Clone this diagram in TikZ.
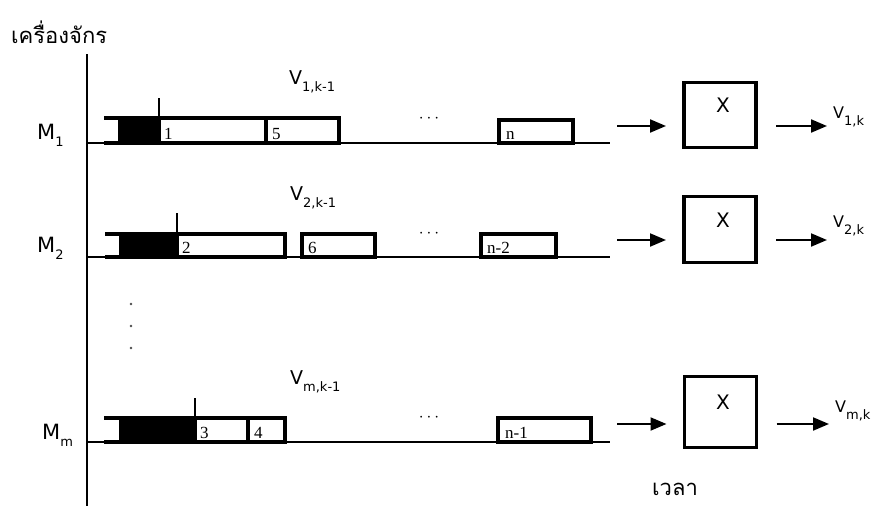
\documentclass[tikz,border=0pt]{standalone}
\usepackage{fontspec}
\setmainfont{DejaVu Sans}
\newfontfamily\thaifont[Script=Thai]{Loma}
\newfontfamily\jobfont{Liberation Serif}
\usetikzlibrary{arrows.meta}

% subscripted label: main letter plus a lowered, smaller index
\newcommand\subl[2]{#1\raisebox{-7pt}{\fontsize{13}{13}\selectfont #2}}

\begin{document}
\begin{tikzpicture}[x=1pt,y=-1pt,
  axisline/.style={line width=1.9pt},
  barline/.style={line width=3.6pt},
  jobbox/.style={barline, fill=white},
  donebox/.style={barline, fill=black},
  tickline/.style={line width=1.5pt},
  flow/.style={line width=2pt, -{Triangle[length=16pt,width=13pt]}},
  xbox/.style={draw, line width=3.8pt, minimum width=72pt, inner sep=0pt, outer sep=0pt},
  lab/.style={font=\fontsize{19}{19}\selectfont, inner sep=0pt, anchor=base west},
  mlab/.style={font=\fontsize{21}{21}\selectfont, inner sep=0pt, anchor=base west},
  olab/.style={font=\fontsize{16}{16}\selectfont, inner sep=0pt, anchor=base west},
  num/.style={font=\jobfont\fontsize{17}{17}\selectfont, inner sep=0pt, anchor=base west},
  thai/.style={font=\thaifont\fontsize{22}{22}\selectfont, inner sep=0pt, anchor=base west},
  ell/.style={font=\fontsize{16}{16}\selectfont, inner sep=0pt},
  xmark/.style={font=\fontsize{20}{20}\selectfont, inner sep=0pt},
  dot/.style={fill=black!70, circle, inner sep=0pt, minimum size=2.6pt}
]
\useasboundingbox (0,0) rectangle (872,506);

% axes and captions
\draw[axisline] (87,54) -- (87,506);
\node[thai] (ylab) at (11,43) {เครื่องจักร};
\node[thai] (tlab) at (652,495) {เวลา};

% ---------- machine 1 ----------
\draw[axisline] (87,143) -- (610,143);
\draw[barline] (104,118) -- (120,118) -- (120,143) -- (104,143);
\draw[donebox] (120,118) rectangle (159,143);
\draw[jobbox] (159,118) rectangle (266,143);
\draw[jobbox] (266,118) rectangle (339,143);
\draw[jobbox] (499,120) rectangle (573,143);
\draw[tickline] (159,98) -- (159,118);
\node[num] (n11) at (164,139) {1};
\node[num] (n12) at (272,139) {5};
\node[num] (n13) at (506,139) {n};
\node[lab] (v1) at (289,84) {\subl{V}{1,k-1}};
\node[ell] (d1) at (429,119) {$\cdots$};
\node[mlab] (m1) at (37,139) {\subl{M}{1}};

\coordinate (a1) at (617,126);
\node[xbox, minimum height=65pt] (x1) at (720,115) {};
\node[xmark] (x1t) at (723,105) {X};
\node[olab] (o1) at (833,118) {\subl{V}{1,k}};
\draw[flow, shorten >=18pt] (a1) -- (a1 -| x1.west);
\draw[flow, shorten <=20pt, shorten >=6pt] (a1 -| x1.east) -- (a1 -| o1.west);

% ---------- machine 2 ----------
\draw[axisline] (87,257) -- (610,257);
\draw[barline] (105,234) -- (121,234) -- (121,257) -- (105,257);
\draw[donebox] (121,234) rectangle (177,257);
\draw[jobbox] (177,234) rectangle (285,257);
\draw[jobbox] (302,234) rectangle (375,257);
\draw[jobbox] (481,234) rectangle (556,257);
\draw[tickline] (177,213) -- (177,234);
\node[num] (n21) at (182,253) {2};
\node[num] (n22) at (308,253) {6};
\node[num] (n23) at (487,253) {n-2};
\node[lab] (v2) at (290,200) {\subl{V}{2,k-1}};
\node[ell] (d2) at (429,234) {$\cdots$};
\node[mlab] (m2) at (37,252) {\subl{M}{2}};

\coordinate (a2) at (617,240);
\node[xbox, minimum height=66pt] (x2) at (720,229.5) {};
\node[xmark] (x2t) at (723,220) {X};
\node[olab] (o2) at (833,227) {\subl{V}{2,k}};
\draw[flow, shorten >=18pt] (a2) -- (a2 -| x2.west);
\draw[flow, shorten <=20pt, shorten >=6pt] (a2 -| x2.east) -- (a2 -| o2.west);

% elided machines
\node[dot] (e1) at (131,304) {};
\node[dot] (e2) at (131,326) {};
\node[dot] (e3) at (131,348) {};

% ---------- machine m ----------
\draw[axisline] (87,442) -- (610,442);
\draw[barline] (104,418) -- (121,418) -- (121,442) -- (104,442);
\draw[donebox] (121,418) rectangle (195,442);
\draw[jobbox] (195,418) rectangle (248,442);
\draw[jobbox] (248,418) rectangle (285,442);
\draw[jobbox] (498,418) rectangle (591,442);
\draw[tickline] (195,398) -- (195,418);
\node[num] (n31) at (200,438) {3};
\node[num] (n32) at (254,438) {4};
\node[num] (n33) at (505,438) {n-1};
\node[lab] (v3) at (290,384) {\subl{V}{m,k-1}};
\node[ell] (d3) at (429,418) {$\cdots$};
\node[mlab] (m3) at (42,439) {\subl{M}{m}};

\coordinate (a3) at (617,424);
\node[xbox, minimum height=71pt] (x3) at (720.5,412) {};
\node[xmark] (x3t) at (723,402) {X};
\node[olab] (o3) at (835,412) {\subl{V}{m,k}};
\draw[flow, shorten >=18pt] (a3) -- (a3 -| x3.west);
\draw[flow, shorten <=20pt, shorten >=6pt] (a3 -| x3.east) -- (a3 -| o3.west);
\end{tikzpicture}
\end{document}
